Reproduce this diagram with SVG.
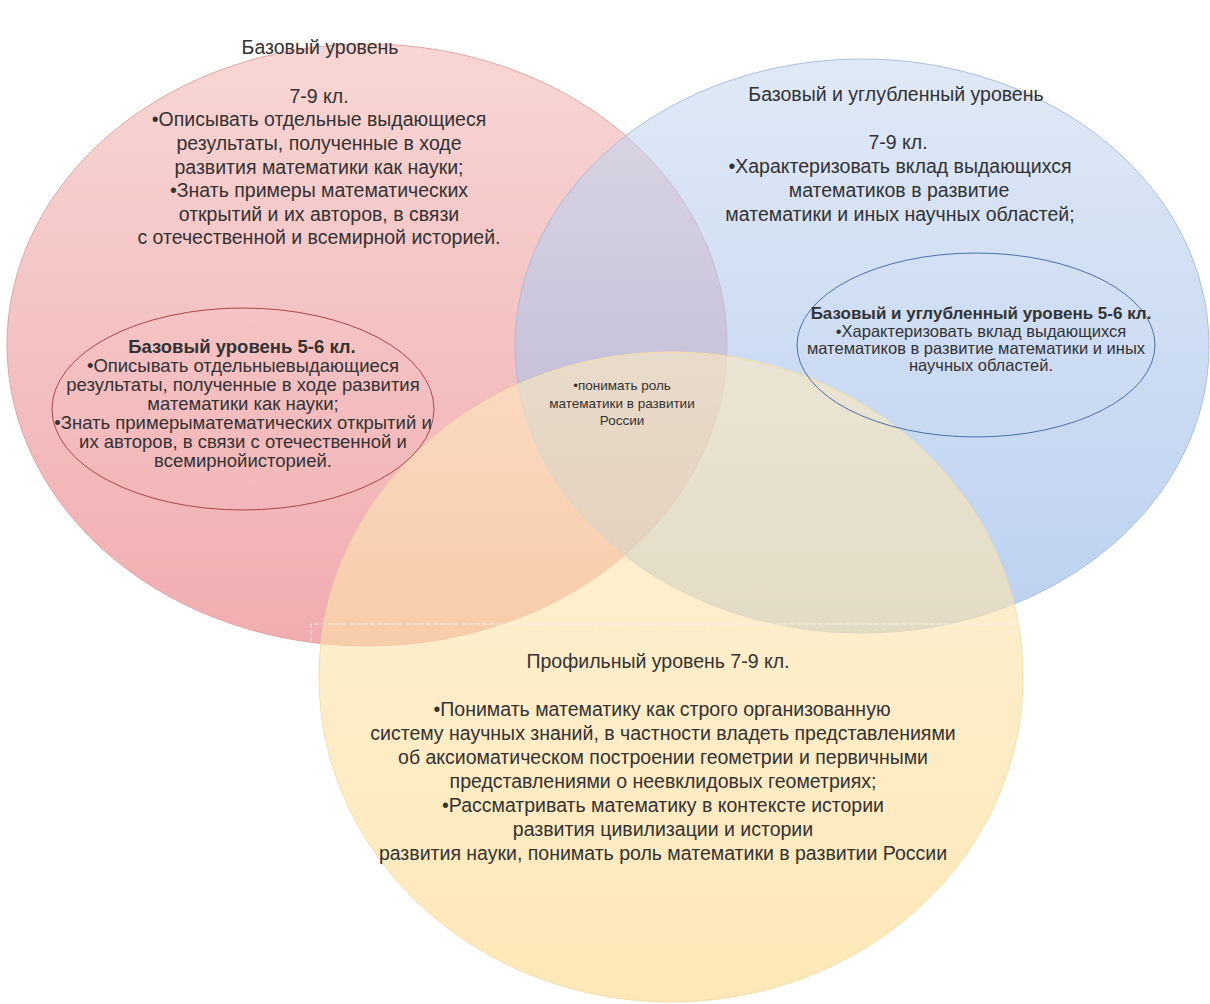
<svg xmlns="http://www.w3.org/2000/svg" width="1210" height="1004" viewBox="0 0 1210 1004">
<style>
text{font-family:"Liberation Sans",Arial,sans-serif;fill:#333;text-anchor:middle}
.big{font-size:19.5px}
.sm{font-size:18.5px}
.bs{font-size:16.5px}
.bt{font-size:17px;font-weight:bold}
.xs{font-size:13.5px}
.b{font-weight:bold}
.circ{fill-opacity:0.6}
</style>
<defs>
<linearGradient id="gr" x1="0" y1="0" x2="0" y2="1"><stop offset="0" stop-color="#f3bbb8"/><stop offset="1" stop-color="#e7767c"/></linearGradient>
<linearGradient id="gb" x1="0" y1="0" x2="0" y2="1"><stop offset="0" stop-color="#cbdaf0"/><stop offset="1" stop-color="#8fb2e6"/></linearGradient>
<linearGradient id="gy" x1="0" y1="0" x2="0" y2="1"><stop offset="0" stop-color="#feeac0"/><stop offset="1" stop-color="#fcd888"/></linearGradient>
</defs>
<rect width="1210" height="1004" fill="#fff"/>
<g id="red">
<ellipse class="circ" cx="367" cy="345" rx="360" ry="301" fill="url(#gr)" stroke="#e3a4a4" stroke-width="1"/>
<text class="big" x="320" y="54">Базовый уровень</text>
<text class="big" x="319" y="103">7-9 кл.</text>
<text class="big" x="319" y="126">•Описывать отдельные выдающиеся</text>
<text class="big" x="319" y="150">результаты, полученные в ходе</text>
<text class="big" x="319" y="174">развития математики как науки;</text>
<text class="big" x="319" y="197">•Знать примеры математических</text>
<text class="big" x="319" y="221">открытий и их авторов, в связи</text>
<text class="big" x="319" y="244">с отечественной и всемирной историей.</text>
</g>
<g id="blue">
<ellipse class="circ" cx="862" cy="346" rx="347" ry="287" fill="url(#gb)" stroke="#a9bfdf" stroke-width="1"/>
<text class="big" x="896" y="101">Базовый и углубленный уровень</text>
<text class="big" x="898" y="149">7-9 кл.</text>
<text class="big" x="900" y="173">•Характеризовать вклад выдающихся</text>
<text class="big" x="899" y="197">математиков в развитие</text>
<text class="big" x="900" y="221">математики и иных научных областей;</text>
</g>
<g id="yellow">
<ellipse class="circ" cx="671" cy="677" rx="352" ry="325" fill="url(#gy)" stroke="#f3dfa8" stroke-width="1"/>
<text class="big" x="658" y="668">Профильный уровень 7-9 кл.</text>
<text class="big" x="662" y="716">•Понимать математику как строго организованную</text>
<text class="big" x="663" y="740">систему научных знаний, в частности владеть представлениями</text>
<text class="big" x="663" y="764">об аксиоматическом построении геометрии и первичными</text>
<text class="big" x="663" y="788">представлениями о неевклидовых геометриях;</text>
<text class="big" x="663" y="812">•Рассматривать математику в контексте истории</text>
<text class="big" x="663" y="836">развития цивилизации и истории</text>
<text class="big" x="663" y="860">развития науки, понимать роль математики в развитии России</text>
</g>
<g id="frame">
<path d="M311 642 V624 H1023 V642" fill="none" stroke="#fff" stroke-opacity="0.6" stroke-width="1" stroke-dasharray="5 2"/>
</g>
<g id="red-inner">
<ellipse cx="243" cy="409" rx="191" ry="101" fill="none" stroke="#a8474a" stroke-width="1"/>
<text class="sm b" x="242" y="353">Базовый уровень 5-6 кл.</text>
<text class="sm" x="243" y="372">•Описывать отдельныевыдающиеся</text>
<text class="sm" x="243" y="391">результаты, полученные в ходе развития</text>
<text class="sm" x="243" y="410">математики как науки;</text>
<text class="sm" x="243" y="429">•Знать примерыматематических открытий и</text>
<text class="sm" x="243" y="448">их авторов, в связи с отечественной и</text>
<text class="sm" x="243" y="467">всемирнойисторией.</text>
</g>
<g id="blue-inner">
<ellipse cx="976" cy="345" rx="179" ry="92" fill="none" stroke="#4f70a8" stroke-width="1"/>
<text class="bt" x="981" y="319">Базовый и углубленный уровень 5-6 кл.</text>
<text class="bs" x="981" y="337">•Характеризовать вклад выдающихся</text>
<text class="bs" x="976" y="354">математиков в развитие математики и иных</text>
<text class="bs" x="981" y="371">научных областей.</text>
</g>
<g id="center">
<text class="xs" x="622" y="390">•понимать роль</text>
<text class="xs" x="622" y="408">математики в развитии</text>
<text class="xs" x="622" y="425">России</text>
</g>
<g id="connectors"></g>
</svg>
